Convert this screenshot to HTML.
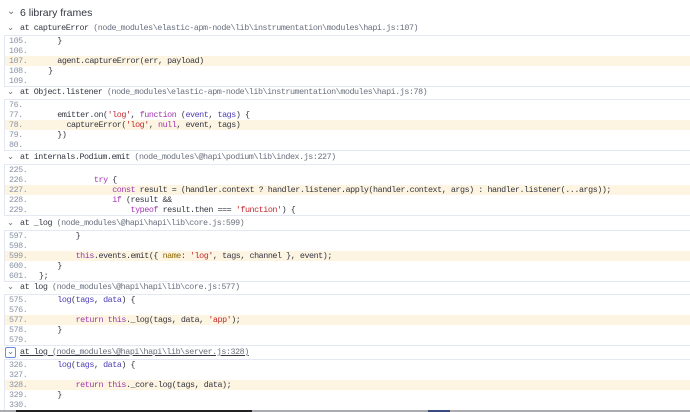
<!DOCTYPE html>
<html><head><meta charset="utf-8"><style>
body{margin:0;width:690px;height:412px;overflow:hidden;background:#fff;position:relative;font-family:"Liberation Mono",monospace;color:#343741}
.t{position:absolute;left:20px;top:7px;font:10.5px "Liberation Sans",sans-serif;color:#343741}
.tc{position:absolute;left:7px;top:6px;font:10px "DejaVu Sans",sans-serif;color:#69707d}
.hd{position:absolute;left:0;width:690px;height:12px;font-size:8.4px;letter-spacing:-0.45px;line-height:12px;white-space:pre}
.hd .ch{position:absolute;left:7px;top:0;color:#69707d;letter-spacing:0}
.hd .tx{position:absolute;left:20px}
.p{color:#69707d}
.box{position:absolute;left:4px;width:686px;border-top:1px solid #e3e8f2;border-bottom:1px solid #e3e8f2;border-left:1px solid #e3e8f2}
.ln{height:10px;line-height:10px;font-size:8.4px;letter-spacing:-0.45px;white-space:pre;position:relative}
.ln.h{background:#fdf4e2}
.n{position:absolute;left:4px;color:#8a94a6}
.c{position:absolute;left:34px}
.k{color:#a037b0}.s{color:#c1272d}.v{color:#4a3cb8}.o{color:#8a6a00}
.sb{position:absolute;left:0;top:410px;width:690px;height:2px;background:#a9abb0}
</style></head><body>
<div class="tc">⌄</div><div class="t">6 library frames</div>

<div class="hd" style="top:22px"><span class="ch">⌄</span><span class="tx">at captureError <span class="p">(node_modules\elastic-apm-node\lib\instrumentation\modules\hapi.js:107)</span></span></div>
<div class="box" style="top:35px">
<div class="ln"><span class="n">105.</span><span class="c">    }</span></div>
<div class="ln"><span class="n">106.</span><span class="c"></span></div>
<div class="ln h"><span class="n">107.</span><span class="c">    agent.captureError(err, payload)</span></div>
<div class="ln"><span class="n">108.</span><span class="c">  }</span></div>
<div class="ln"><span class="n">109.</span><span class="c"></span></div>
</div>

<div class="hd" style="top:86px"><span class="ch">⌄</span><span class="tx">at Object.listener <span class="p">(node_modules\elastic-apm-node\lib\instrumentation\modules\hapi.js:78)</span></span></div>
<div class="box" style="top:99px">
<div class="ln"><span class="n">76.</span><span class="c"></span></div>
<div class="ln"><span class="n">77.</span><span class="c">    emitter.on(<span class="s">'log'</span>, <span class="k">function</span> (<span class="v">event</span>, <span class="v">tags</span>) {</span></div>
<div class="ln h"><span class="n">78.</span><span class="c">      captureError(<span class="s">'log'</span>, <span class="k">null</span>, event, tags)</span></div>
<div class="ln"><span class="n">79.</span><span class="c">    })</span></div>
<div class="ln"><span class="n">80.</span><span class="c"></span></div>
</div>

<div class="hd" style="top:151px"><span class="ch">⌄</span><span class="tx">at internals.Podium.emit <span class="p">(node_modules\@hapi\podium\lib\index.js:227)</span></span></div>
<div class="box" style="top:164px">
<div class="ln"><span class="n">225.</span><span class="c"></span></div>
<div class="ln"><span class="n">226.</span><span class="c">            <span class="k">try</span> {</span></div>
<div class="ln h"><span class="n">227.</span><span class="c">                <span class="k">const</span> result = (handler.context ? handler.listener.apply(handler.context, args) : handler.listener(...args));</span></div>
<div class="ln"><span class="n">228.</span><span class="c">                <span class="k">if</span> (result &amp;&amp;</span></div>
<div class="ln"><span class="n">229.</span><span class="c">                    <span class="k">typeof</span> result.then === <span class="s">'function'</span>) {</span></div>
</div>

<div class="hd" style="top:217px"><span class="ch">⌄</span><span class="tx">at _log <span class="p">(node_modules\@hapi\hapi\lib\core.js:599)</span></span></div>
<div class="box" style="top:230px">
<div class="ln"><span class="n">597.</span><span class="c">        }</span></div>
<div class="ln"><span class="n">598.</span><span class="c"></span></div>
<div class="ln h"><span class="n">599.</span><span class="c">        <span class="k">this</span>.events.emit({ <span class="o">name</span>: <span class="s">'log'</span>, tags, channel }, event);</span></div>
<div class="ln"><span class="n">600.</span><span class="c">    }</span></div>
<div class="ln"><span class="n">601.</span><span class="c">};</span></div>
</div>

<div class="hd" style="top:281px"><span class="ch">⌄</span><span class="tx">at log <span class="p">(node_modules\@hapi\hapi\lib\core.js:577)</span></span></div>
<div class="box" style="top:294px">
<div class="ln"><span class="n">575.</span><span class="c">    <span class="v">log</span>(<span class="v">tags</span>, <span class="v">data</span>) {</span></div>
<div class="ln"><span class="n">576.</span><span class="c"></span></div>
<div class="ln h"><span class="n">577.</span><span class="c">        <span class="k">return</span> <span class="k">this</span>._log(tags, data, <span class="s">'app'</span>);</span></div>
<div class="ln"><span class="n">578.</span><span class="c">    }</span></div>
<div class="ln"><span class="n">579.</span><span class="c"></span></div>
</div>

<div class="hd" style="top:346px"><span class="ch" style="left:5px;top:1px;width:9px;height:9px;border:1px solid #6b8fd6;border-radius:2px;line-height:8px;text-align:center">⌄</span><span class="tx" style="text-decoration:underline;color:#343741">at log <span class="p">(node_modules\@hapi\hapi\lib\server.js:328)</span></span></div>
<div class="box" style="top:359px">
<div class="ln"><span class="n">326.</span><span class="c">    <span class="v">log</span>(<span class="v">tags</span>, <span class="v">data</span>) {</span></div>
<div class="ln"><span class="n">327.</span><span class="c"></span></div>
<div class="ln h"><span class="n">328.</span><span class="c">        <span class="k">return</span> <span class="k">this</span>._core.log(tags, data);</span></div>
<div class="ln"><span class="n">329.</span><span class="c">    }</span></div>
<div class="ln"><span class="n">330.</span><span class="c"></span></div>
</div>
<div class="sb"></div>
<div style="position:absolute;left:16px;top:410px;width:236px;height:2px;background:#222"></div>
<div style="position:absolute;left:428px;top:410px;width:22px;height:2px;background:#3b4a80"></div>
</body></html>
